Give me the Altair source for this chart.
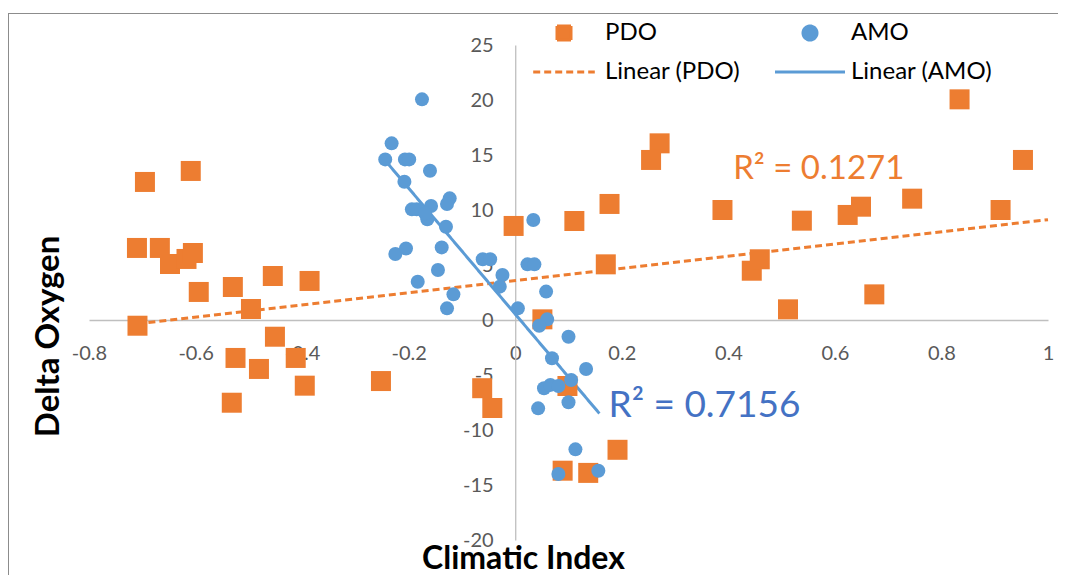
import altair as alt
import pandas as pd

# ---- data ----
pdo_x = [-0.695, -0.609, -0.710, -0.667, -0.648, -0.617, -0.605, -0.594, -0.709, -0.530,
         -0.496, -0.455, -0.386, -0.451, -0.525, -0.481, -0.412, -0.395, -0.532, -0.252,
         -0.062, -0.043, -0.003, 0.051, 0.111, 0.177, 0.170, 0.098, 0.192, 0.089,
         0.137, 0.271, 0.255, 0.389, 0.538, 0.624, 0.649, 0.745, 0.834, 0.953,
         0.911, 0.444, 0.459, 0.512, 0.674]
pdo_y = [12.55, 13.55, 6.55, 6.55, 5.09, 5.55, 6.09, 2.55, -0.52, 3.0,
         1.0, 4.0, 3.55, -1.52, -3.45, -4.45, -3.45, -5.97, -7.52, -5.55,
         -6.2, -8.0, 8.55, 0.06, 9.0, 10.55, 5.06, -6.0, -11.8, -13.7,
         -13.9, 16.06, 14.55, 10.0, 9.03, 9.55, 10.3, 11.03, 20.06, 14.55,
         10.0, 4.48, 5.52, 0.97, 2.33]

amo_x = [-0.175, -0.232, -0.244, -0.207, -0.199, -0.160, -0.208, -0.194, -0.185, -0.158,
         -0.165, -0.169, -0.123, -0.128, -0.130, -0.225, -0.205, -0.138, -0.145, -0.183,
         -0.116, -0.128, -0.061, -0.047, -0.024, -0.029, 0.005, 0.034, 0.023, 0.036,
         0.058, 0.060, 0.045, 0.100, 0.069, 0.133, 0.105, 0.054, 0.066, 0.081,
         0.100, 0.043, 0.113, 0.081, 0.156]
amo_y = [20.06, 16.06, 14.6, 14.6, 14.6, 13.57, 12.57, 10.06, 10.06, 10.36,
         9.15, 9.7, 11.06, 10.55, 8.48, 6.0, 6.5, 6.6, 4.55, 3.48,
         2.33, 1.06, 5.52, 5.52, 4.09, 3.03, 1.06, 9.09, 5.06, 5.06,
         2.58, 0.06, -0.52, -1.52, -3.48, -4.45, -5.45, -6.2, -5.9, -6.0,
         -7.48, -8.03, -11.76, -14.0, -13.7]

# trend line end points (as drawn)
pdo_trend_x = [-0.709, 1.0]
pdo_trend_y = [-0.35, 9.12]
amo_trend_x = [-0.244, 0.158]
amo_trend_y = [14.5, -8.5]

# R-squared annotations
pdo_r2_text = ["R\u00b2 = 0.1271"]
pdo_r2_x = [0.409]
pdo_r2_y = [12.8]
amo_r2_text = ["R\u00b2 = 0.7156"]
amo_r2_x = [0.175]
amo_r2_y = [-8.8]

series_names = ["PDO", "AMO", "Linear (PDO)", "Linear (AMO)"]
series_colors = ["#ED7D31", "#5B9BD5", "#ED7D31", "#5B9BD5"]
series_shapes = ["square", "circle", "M-4.4,0H4.4", "M-5.0,0H5.0"]
series_dash = [[1, 0], [1, 0], [7, 4], [1, 0]]

x_ticks = [-0.8, -0.6, -0.4, -0.2, 0, 0.2, 0.4, 0.6, 0.8, 1]
y_ticks = [-20, -15, -10, -5, 0, 5, 10, 15, 20, 25]

# ---- tables ----
pdo_df = pd.DataFrame({"x": pdo_x, "y": pdo_y, "series": "PDO"})
amo_df = pd.DataFrame({"x": amo_x, "y": amo_y, "series": "AMO"})
trend_df = pd.concat([
    pd.DataFrame({"x": pdo_trend_x, "y": pdo_trend_y, "series": "Linear (PDO)"}),
    pd.DataFrame({"x": amo_trend_x, "y": amo_trend_y, "series": "Linear (AMO)"}),
])
pdo_r2_df = pd.DataFrame({"x": pdo_r2_x, "y": pdo_r2_y, "t": pdo_r2_text})
amo_r2_df = pd.DataFrame({"x": amo_r2_x, "y": amo_r2_y, "t": amo_r2_text})

FONT = "Lato"
W, H = 959, 495
PAD_L, PAD_T, PAD_R, PAD_B = 81, 37, 10, 35
X0_PX = W * 0.8 / 1.8          # pixel position of x = 0 inside plot
Y0_PX = H * 25 / 45            # pixel position of y = 0 from top

x_scale = alt.Scale(domain=[-0.8, 1.0], nice=False, zero=False)
y_scale = alt.Scale(domain=[-20, 25], nice=False, zero=False)

x_axis = alt.Axis(
    values=x_ticks, labelExpr="toString(datum.value)", grid=False, ticks=False,
    domainColor="#BFBFBF", domainWidth=1.3, labelColor="#595959", labelFont=FONT,
    labelFontSize=20, labelPadding=23, labelFlush=False, labelOverlap=False,
    offset=-(H - Y0_PX),
    title="Climatic Index", titleFont=FONT, titleFontSize=32, titleFontWeight="bold",
    titleColor="black", titleX=434, titleY=H - Y0_PX + 28, titleBaseline="alphabetic",
    titleAnchor="start", titleAlign="center",
)
y_axis = alt.Axis(
    values=y_ticks, labelExpr="toString(datum.value)", grid=False, ticks=False,
    domainColor="#BFBFBF", domainWidth=1.3, labelColor="#595959", labelFont=FONT,
    labelFontSize=20, labelPadding=22, labelFlush=False, labelOverlap=False,
    offset=-X0_PX,
    title="Delta Oxygen", titleFont=FONT, titleFontSize=33, titleFontWeight="bold",
    titleColor="black", titleX=-(X0_PX + 41), titleY=291, titleBaseline="middle",
    titleAlign="center", titleAngle=270,
)

legend = alt.Legend(
    orient="none", legendX=463, legendY=-24, columns=2, direction="horizontal",
    title=None, symbolSize=196, symbolOpacity=1, symbolStrokeWidth=3,
    labelFont=FONT, labelFontSize=24,
    labelColor="black", labelOffset=29, columnPadding=28, rowPadding=14,
    padding=0,
)

color_enc = alt.Color("series:N", scale=alt.Scale(domain=series_names, range=series_colors),
                      legend=legend)
shape_enc = alt.Shape("series:N", scale=alt.Scale(domain=series_names, range=series_shapes),
                      legend=legend)
stroke_enc = alt.Stroke("series:N", scale=alt.Scale(domain=series_names, range=series_colors),
                        legend=legend)
dash_enc = alt.StrokeDash("series:N", scale=alt.Scale(domain=series_names, range=series_dash),
                          legend=legend)

xe = alt.X("x:Q", scale=x_scale, axis=x_axis)
ye = alt.Y("y:Q", scale=y_scale, axis=y_axis)

# chart-area frame: only its top and left edges fall inside the picture
one_row = pd.DataFrame({"a": [0]})
frame_top = alt.Chart(one_row).mark_rule(stroke="#8C8C8C", strokeWidth=1).encode(
    x=alt.value(-PAD_L), x2=alt.value(W + PAD_R), y=alt.value(-31.5))
frame_left = alt.Chart(one_row).mark_rule(stroke="#8C8C8C", strokeWidth=1).encode(
    x=alt.value(-80.5), y=alt.value(-31.5), y2=alt.value(H + PAD_B))

lines = alt.Chart(trend_df).mark_line(strokeWidth=3).encode(
    x=xe, y=ye, stroke=stroke_enc, strokeDash=dash_enc,
)

pdo_pts = alt.Chart(pdo_df).mark_point(filled=True, size=400, opacity=1, strokeWidth=0).encode(
    x=xe, y=ye, color=color_enc, shape=shape_enc)
amo_pts = alt.Chart(amo_df).mark_point(filled=True, size=196, opacity=1, strokeWidth=0).encode(
    x=xe, y=ye, color=color_enc, shape=shape_enc)

pdo_r2 = alt.Chart(pdo_r2_df).mark_text(font=FONT, fontSize=33, align="left",
                                        baseline="alphabetic", color="#ED7D31").encode(
    x=xe, y=ye, text="t:N")
amo_r2 = alt.Chart(amo_r2_df).mark_text(font=FONT, fontSize=37, align="left",
                                        baseline="alphabetic", color="#4472C4").encode(
    x=xe, y=ye, text="t:N")

chart = alt.layer(frame_top, frame_left, lines, pdo_pts, amo_pts, pdo_r2, amo_r2).properties(
    width=W, height=H,
    autosize=alt.AutoSizeParams(type="none"),
    padding={"left": PAD_L, "top": PAD_T, "right": PAD_R, "bottom": PAD_B},
    background="white",
).configure_view(stroke="transparent", strokeWidth=0)

chart.save("out.html", embed_options={"renderer": "svg", "actions": False})
